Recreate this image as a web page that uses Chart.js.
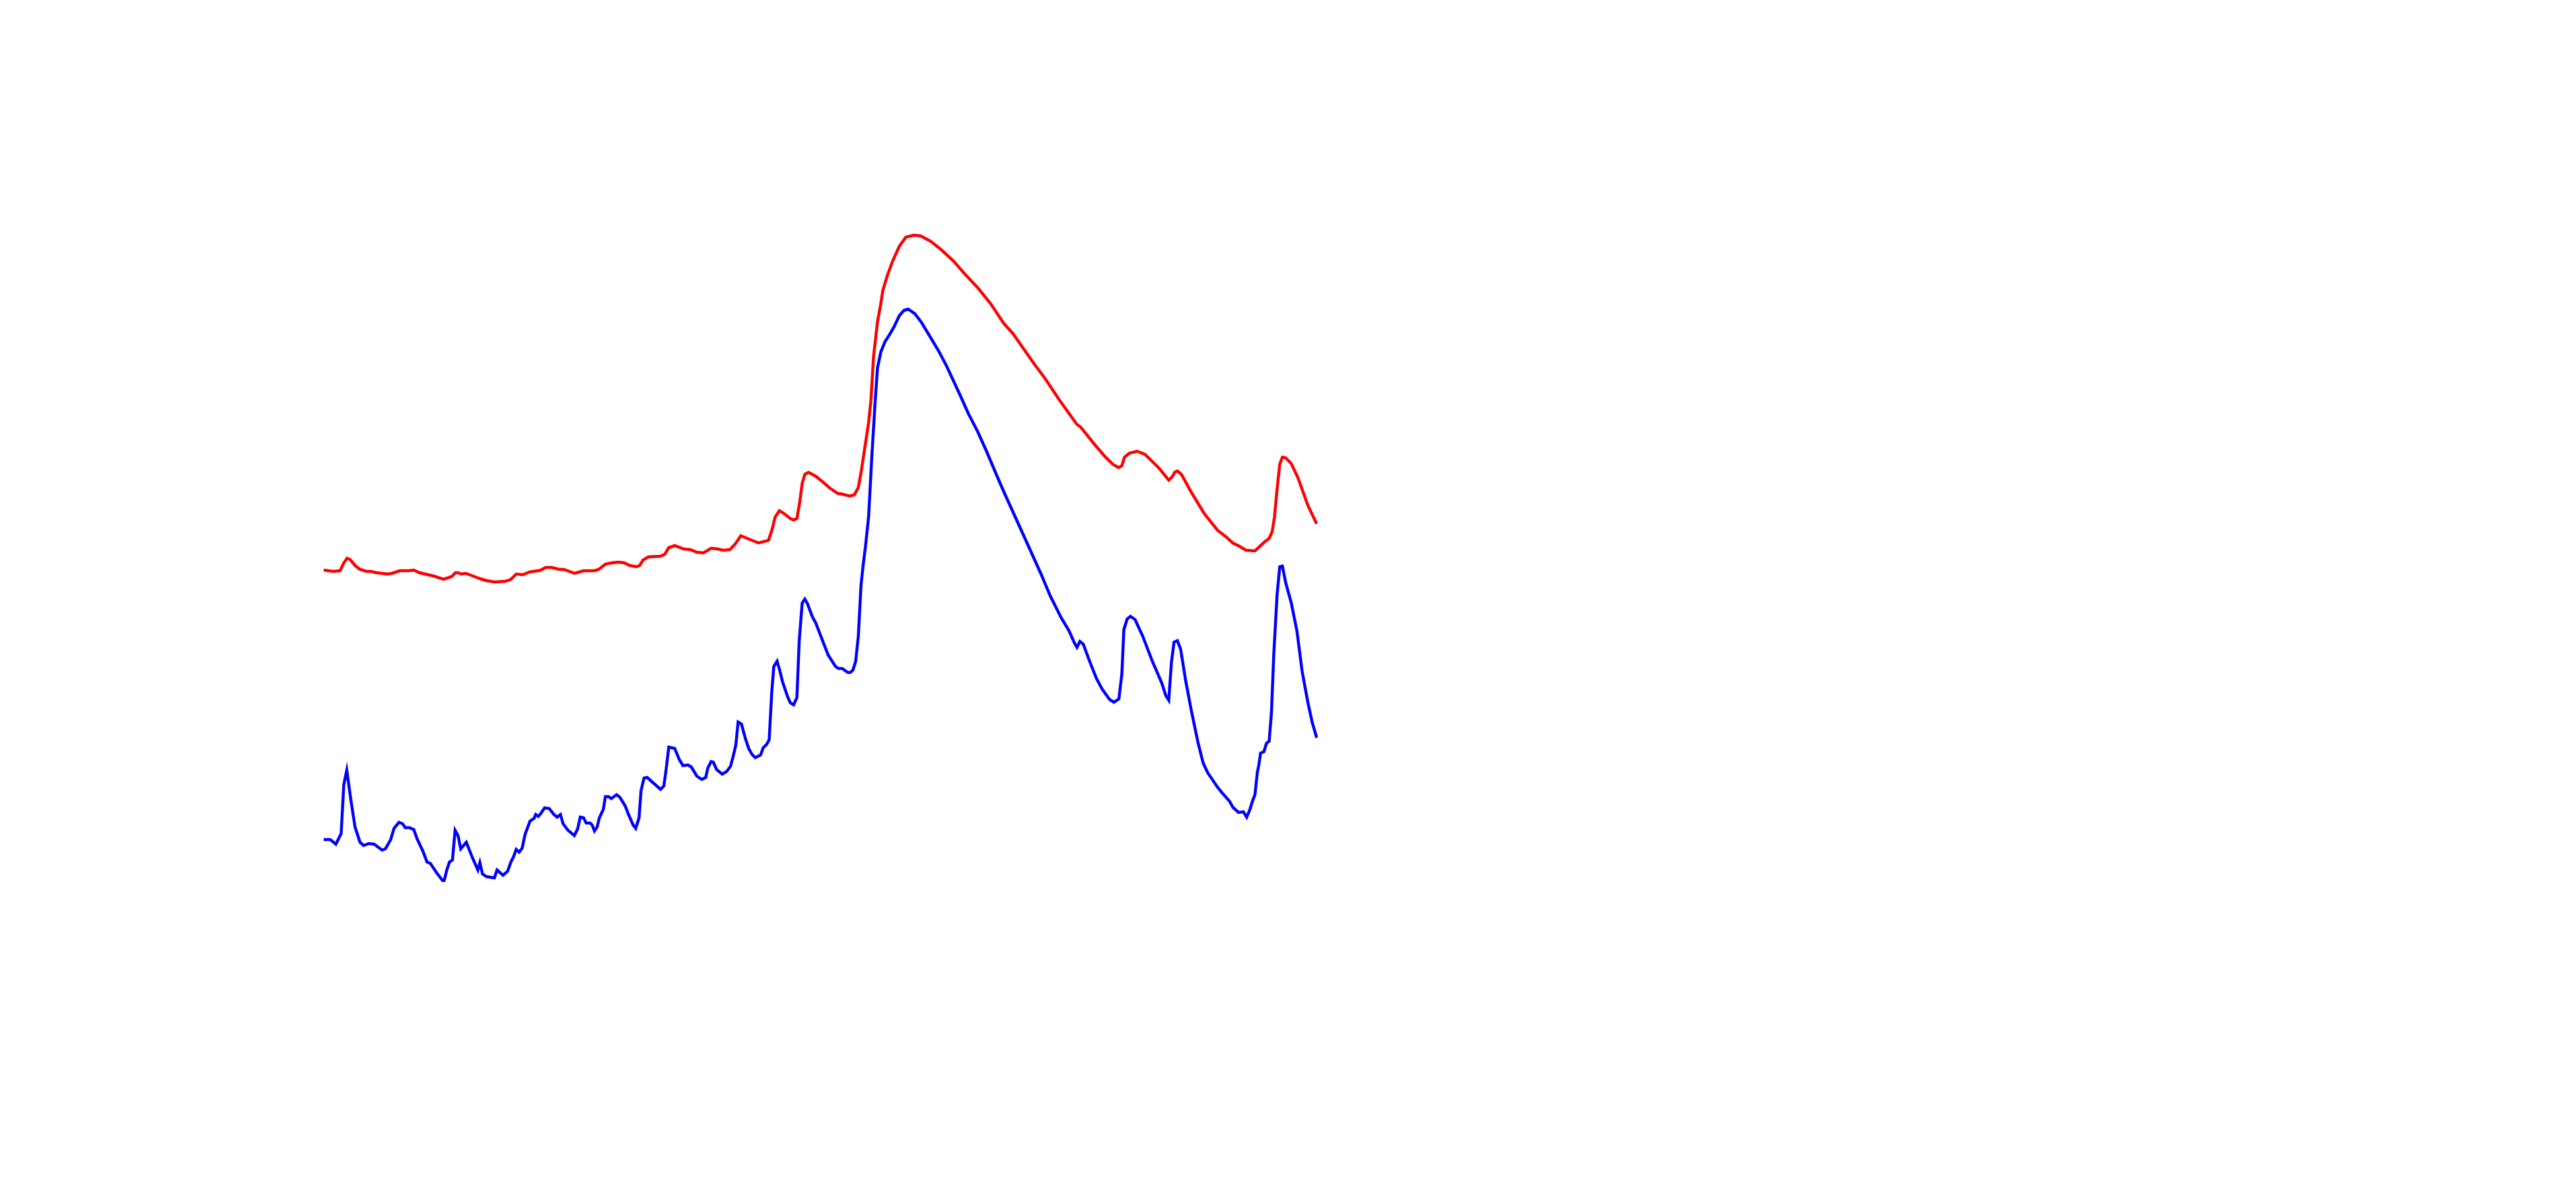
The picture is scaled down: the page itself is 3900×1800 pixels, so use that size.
<!DOCTYPE html>
<html>
<head>
<meta charset="utf-8">
<script src="https://cdn.jsdelivr.net/npm/chart.js@4/dist/chart.umd.min.js"></script>
<style>
  html, body { margin: 0; padding: 0; background: #fff; }
  #wrap { width: 3900px; height: 1800px; }
</style>
</head>
<body>
<div id="wrap"><canvas id="chart" width="3900" height="1800"></canvas></div>
<script>
// red trace
const redX = [0,3,5,6,7.1,8,9.7,11,13,14.3,16,19.3,20.7,23,25.7,27.3,29,30.7,33.3,36.3,38.7,39.9,40.7,41.7,43,44.7,47.3,49.3,51.7,55,56.7,58.3,60.3,62.3,64.7,65.3,67.3,69,71.3,72.7,76,78.7,82,83.3,85.3,87.3,89.3,91,92.7,94.7,95.7,96.7,98.3,102,103.3,104.5,106.3,109,111,113,115,117.3,119.3,121,123,124.7,126.3,128.7,131.7,134.7,135.7,136.7,138,139.3,141.3,142.3,143.3,144.1,144.9,145.7,146.8,149,151,153.3,155.7,157,159.3,160.7,161.9,162.8,164,165,165.7,166.5,167.7,168.7,169.3,170.7,172.3,174.3,176.3,178.7,180.7,183.7,187,190.7,194,198.3,202,206,208.7,215.3,218.3,222.7,226,228,229.3,233.3,236.7,239,240.7,241.7,242.5,244,246.3,248.7,253,255.9,256.9,257.7,258.5,259.7,262.7,266.7,270.7,273.3,275.3,277.3,279.3,282,283.7,285,286.3,287.2,287.9,288.7,289.5,290.3,291.3,293,295,298,300.7];
const redY = [63.7,63.5,63.6,64.7,65.5,65.3,64.3,63.8,63.5,63.5,63.3,63.1,63.2,63.6,63.6,63.7,63.3,63.1,62.8,62.3,62.7,63.3,63.3,63.1,63.2,62.9,62.4,62.1,61.9,62.0,62.3,63.1,63.0,63.4,63.6,63.6,64.1,64.1,63.8,63.8,63.2,63.6,63.6,63.8,64.6,64.8,64.9,64.8,64.4,64.2,64.4,65.2,65.7,65.8,66.1,67.1,67.4,66.9,66.8,66.4,66.3,67.0,66.9,66.7,66.8,67.7,68.9,68.4,67.8,68.2,69.7,71.7,72.7,72.3,71.5,71.3,71.5,73.8,76.8,78.2,78.5,77.9,77.1,76.1,75.3,75.2,74.9,75.1,76.2,78.7,82.7,86.0,89.3,96.0,101.3,104.0,106.0,108.3,110.5,112.7,114.1,114.4,114.3,113.5,112.2,110.5,108.6,106.3,104.0,101.0,99.5,94.8,92.8,89.5,87.2,85.8,85.3,82.8,80.8,79.7,79.2,79.5,80.8,81.4,81.7,81.2,79.1,77.3,77.8,78.5,78.7,78.2,75.5,72.2,69.7,68.7,67.8,67.3,66.7,66.6,67.4,68.0,68.5,69.5,71.7,76.0,79.7,80.8,80.7,79.8,77.7,73.5,70.7];

// blue trace
const blueX = [0,2,3.7,5.3,6.1,7,8.3,9.5,11,12.1,13.7,15.3,17.7,18.7,20.3,21.3,22.8,23.9,24.7,26,27.3,28.3,30,31.3,32.3,34.3,36,36.5,37.3,38.1,39,39.8,40.7,41.5,43.2,45,46.7,47.3,48.1,49.3,51.7,52.5,54.3,55.7,56.7,57.5,58.3,59.2,60.1,61,62.5,63.7,64.2,65,65.7,66.9,68.3,69.7,70.7,71.7,72.5,74,75.9,76.9,77.7,78.7,79.5,80.7,81.3,82,82.8,83.5,84.7,85.3,86.3,87.1,88.7,89.7,91.3,92.3,93.7,94.5,95.5,96.1,97,98,99.3,102,103,103.7,104.5,106.3,107.7,108.8,110.3,111.3,113,114.5,115.7,116.3,117.3,118,119,120.7,122,123.2,124,124.8,125.5,126.5,127.7,128.7,129.7,130.7,132.3,133.1,134.1,134.9,135.7,136.3,137.3,138.1,139,140.5,141.3,142.3,143.3,144,144.9,145.7,146.5,148,149,151,152.8,155,155.9,157,158.7,159.5,160.3,161.1,161.9,162.7,163.3,164,165,166,167,167.7,168.7,170,171.3,172.7,174.3,175.7,177,179,181,183.3,186.3,188.7,192.7,195.3,198,200.7,204,206,213.7,217.3,220,223.3,225.7,227.3,228.1,229,230,232,234,235.7,238,239.3,240.8,241.7,242.3,243.3,244.3,245.7,248,251,253.7,255,255.9,256.7,257.5,258.5,259.5,261,262.7,264.7,266.3,267.7,270.7,272,274.3,275.3,277,278.5,279.5,280.5,281.3,282,282.7,283.2,283.7,284.7,285.5,286.3,287,287.7,288.7,289.5,290.3,291.3,293,294.7,296.3,298,299.3,300.7];
const blueY = [22.9,22.9,22.2,23.8,31.2,33.4,28.7,24.8,22.5,22.0,22.3,22.2,21.3,21.5,22.9,24.6,25.5,25.3,24.7,24.7,24.4,23.0,21.2,19.5,19.3,17.8,16.7,16.7,18.3,19.5,19.8,24.3,23.5,21.5,22.5,20.2,18.3,19.4,17.7,17.3,17.1,18.3,17.5,18.1,19.5,20.3,21.4,21.0,21.6,23.7,25.7,26.1,26.7,26.4,26.8,27.7,27.6,26.7,26.3,26.7,25.3,24.3,23.5,24.5,26.3,26.2,25.4,25.4,25.1,24.2,24.8,26.2,27.5,29.4,29.4,29.1,29.7,29.3,28.0,26.7,25.1,24.6,26.2,30.3,32.2,32.3,31.7,30.5,31.0,33.5,36.9,36.7,35.0,34.1,34.2,33.9,32.5,32.0,32.3,33.7,34.7,34.6,33.5,32.8,33.2,34.0,35.5,37.2,40.7,40.4,38.2,36.7,35.8,35.3,35.7,36.8,37.3,38.0,45.3,49.1,49.9,48.5,46.7,44.5,43.6,43.3,44.4,53.0,58.7,59.3,58.6,56.6,55.7,53.1,50.8,49.1,48.8,48.8,48.2,48.2,48.6,49.9,53.7,61.3,64.2,67.0,71.7,81.0,89.3,94.3,96.7,98.3,99.3,100.5,102.2,103.0,103.2,102.5,101.2,99.3,96.8,94.5,90.2,87.3,84.7,81.7,77.8,75.5,67.0,63.0,59.8,56.5,54.5,52.7,52.0,52.9,52.5,49.8,47.3,45.7,44.1,43.7,44.2,48.0,54.7,56.3,56.7,56.2,53.7,49.8,46.7,44.7,44.0,49.7,52.8,53.0,51.7,47.0,42.5,37.7,34.5,33.0,30.8,30.0,28.7,27.8,27.0,27.1,26.3,27.5,28.8,29.7,33.0,34.3,36.0,36.2,37.5,37.8,42.2,51.0,60.0,64.2,64.3,61.8,58.7,54.5,48.3,43.7,40.7,38.3];

const toPoints = (xs, ys) => xs.map((x, i) => ({ x: x, y: ys[i] }));

new Chart(document.getElementById('chart'), {
  type: 'line',
  data: {
    datasets: [
      { data: toPoints(redX, redY), borderColor: '#ff0000', borderWidth: 4.5, pointRadius: 0, tension: 0, fill: false },
      { data: toPoints(blueX, blueY), borderColor: '#0000ff', borderWidth: 4.5, pointRadius: 0, tension: 0, fill: false }
    ]
  },
  options: {
    responsive: false,
    animation: false,
    devicePixelRatio: 1,
    layout: { padding: { left: 490, right: 1905, top: 300, bottom: 300 } },
    plugins: { legend: { display: false }, tooltip: { enabled: false } },
    scales: {
      x: { type: 'linear', min: 0, max: 301, display: false },
      y: { type: 'linear', min: 0, max: 120, display: false }
    }
  }
});
</script>
</body>
</html>
